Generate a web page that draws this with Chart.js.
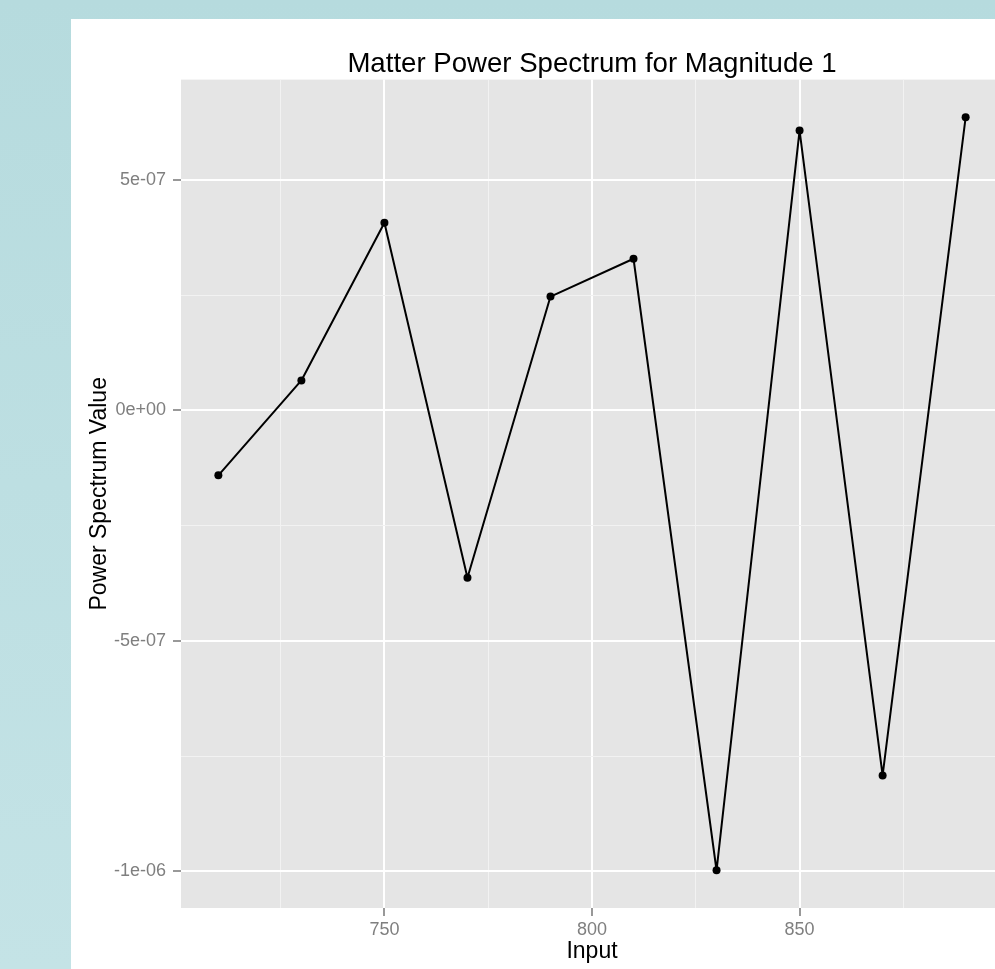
<!DOCTYPE html>
<html>
<head>
<meta charset="utf-8">
<script src="https://cdn.jsdelivr.net/npm/chart.js@4/dist/chart.umd.min.js"></script>
<style>
  html, body { margin: 0; padding: 0; width: 995px; height: 969px; overflow: hidden; }
  body { background: linear-gradient(to bottom, #B6DBDE 0%, #C4E3E6 100%); position: relative; }
  #panel { position: absolute; left: 71px; top: 19px; width: 960px; height: 950px; background: #FFFFFF; }
</style>
</head>
<body>
<div id="panel"><canvas id="c"></canvas></div>
<script>
// ---- data ----
const inputs = [710, 730, 750, 770, 790, 810, 830, 850, 870, 890];
const powerValues = [-1.41e-7, 0.65e-7, 4.07e-7, -3.63e-7, 2.47e-7, 3.29e-7, -9.98e-7, 6.07e-7, -7.92e-7, 6.36e-7];

const xMajorTicks = [750, 800, 850];
const xMinorTicks = [725, 775, 825, 875];
const xTickLabels = ['750', '800', '850'];
const yMajorTicks = [-1e-6, -5e-7, 0, 5e-7];
const yMinorTicks = [-7.5e-7, -2.5e-7, 2.5e-7];
const yTickLabels = ['-1e-06', '-5e-07', '0e+00', '5e-07'];

const chartTitle = 'Matter Power Spectrum for Magnitude 1';
const xTitle = 'Input';
const yTitle = 'Power Spectrum Value';

// ggplot-style 5% expansion of the data range
const xMinD = Math.min(...inputs), xMaxD = Math.max(...inputs);
const yMinD = Math.min(...powerValues), yMaxD = Math.max(...powerValues);
const xExp = (xMaxD - xMinD) * 0.05, yExp = (yMaxD - yMinD) * 0.05;

const FONT = '"Liberation Sans", Arial, Helvetica, sans-serif';
const near = (a, b) => Math.abs(a - b) < 1e-12 * Math.max(1, Math.abs(b)) || Math.abs(a - b) < 1e-15;
const isMajor = (list, v) => list.some(m => near(m, v));

const panelBg = {
  id: 'panelBg',
  beforeDraw(chart) {
    const { ctx, chartArea: a } = chart;
    ctx.save();
    ctx.fillStyle = '#E5E5E5';
    ctx.fillRect(a.left, a.top, a.right - a.left, a.bottom - a.top);
    ctx.restore();
  }
};

function gridOpts(majors) {
  return {
    drawOnChartArea: true,
    drawTicks: true,
    tickLength: 8,
    color: c => isMajor(majors, c.tick.value) ? '#FFFFFF' : '#F2F2F2',
    lineWidth: c => isMajor(majors, c.tick.value) ? 2 : 1,
    tickColor: c => isMajor(majors, c.tick.value) ? '#7F7F7F' : 'rgba(0,0,0,0)',
    tickWidth: 1.6
  };
}

new Chart(document.getElementById('c'), {
  type: 'line',
  data: {
    datasets: [{
      data: inputs.map((x, i) => ({ x: x, y: powerValues[i] })),
      borderColor: '#000000',
      borderWidth: 2,
      borderJoinStyle: 'round',
      borderCapStyle: 'round',
      tension: 0,
      fill: false,
      pointRadius: 4,
      pointBackgroundColor: '#000000',
      pointBorderWidth: 0,
      clip: false
    }]
  },
  plugins: [panelBg],
  options: {
    responsive: true,
    maintainAspectRatio: false,
    animation: false,
    layout: { padding: { left: 0, right: 28, top: 0, bottom: 0 } },
    plugins: {
      legend: { display: false },
      tooltip: { enabled: false },
      title: {
        display: true,
        text: chartTitle,
        fullSize: false,
        color: '#000000',
        font: { family: FONT, size: 27.6, weight: 'normal', lineHeight: 1.0 },
        padding: { top: 32, bottom: 1 }
      }
    },
    scales: {
      x: {
        type: 'linear',
        min: xMinD - xExp,
        max: xMaxD + xExp,
        border: { display: false },
        grid: gridOpts(xMajorTicks),
        afterBuildTicks: s => { s.ticks = [...xMajorTicks, ...xMinorTicks].sort((a, b) => a - b).map(v => ({ value: v })); },
        afterFit: s => { s.height = 61; },
        ticks: {
          maxRotation: 0,
          autoSkip: false,
          padding: 3,
          color: '#7F7F7F',
          font: { family: FONT, size: 18 },
          callback: v => { const i = xMajorTicks.findIndex(m => near(m, v)); return i >= 0 ? xTickLabels[i] : ''; }
        },
        title: {
          display: true,
          text: xTitle,
          color: '#000000',
          font: { family: FONT, size: 23, lineHeight: 1.2 },
          padding: { top: 0, bottom: 4 }
        }
      },
      y: {
        type: 'linear',
        min: yMinD - yExp,
        max: yMaxD + yExp,
        border: { display: false },
        grid: gridOpts(yMajorTicks),
        afterBuildTicks: s => { s.ticks = [...yMajorTicks, ...yMinorTicks].sort((a, b) => a - b).map(v => ({ value: v })); },
        afterFit: s => { s.width = 110; },
        ticks: {
          autoSkip: false,
          padding: 7,
          color: '#7F7F7F',
          font: { family: FONT, size: 18 },
          callback: v => { const i = yMajorTicks.findIndex(m => near(m, v)); return i >= 0 ? yTickLabels[i] : ''; }
        },
        title: {
          display: true,
          text: yTitle,
          color: '#000000',
          font: { family: FONT, size: 23, lineHeight: 1.2 },
          padding: { top: 15, bottom: 0 }
        }
      }
    }
  }
});
</script>
</body>
</html>
